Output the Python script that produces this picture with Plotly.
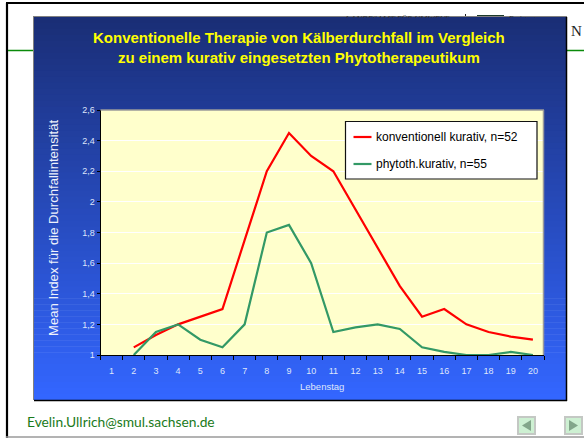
import plotly.graph_objects as go

days = list(range(1, 21))
day_labels = [str(d) for d in days]
konventionell = [None, 1.05, 1.13, 1.2, 1.25, 1.3, 1.75, 2.2, 2.45, 2.3, 2.2, 1.95, 1.7, 1.45, 1.25, 1.3, 1.2, 1.15, 1.12, 1.1]
phytoth = [None, 1.0, 1.15, 1.2, 1.1, 1.05, 1.2, 1.8, 1.85, 1.6, 1.15, 1.18, 1.2, 1.17, 1.05, 1.02, 1.0, 1.0, 1.02, 1.0]
y_ticks = [1, 1.2, 1.4, 1.6, 1.8, 2, 2.2, 2.4, 2.6]
y_labels = ["1", "1,2", "1,4", "1,6", "1,8", "2", "2,2", "2,4", "2,6"]
title_lines = ["Konventionelle Therapie von Kälberdurchfall im Vergleich", "zu einem kurativ eingesetzten Phytotherapeutikum"]
series_names = ["konventionell kurativ, n=52", "phytoth.kurativ, n=55"]

W, H = 584, 438
px = lambda v: v / W
py = lambda v: 1 - v / H
ARIAL = "Liberation Sans, Arial, sans-serif"
RED, GREEN, TICK = "#ff0000", "#339966", "#dfe6fb"


def rect(x0, y0, x1, y1, fill=None, line=None, lw=1, layer="below"):
    return dict(type="rect", xref="paper", yref="paper", x0=px(x0), x1=px(x1), y0=py(y0), y1=py(y1),
                fillcolor=fill or "rgba(0,0,0,0)", line=dict(color=line or "rgba(0,0,0,0)", width=lw if line else 0), layer=layer)


def hline(x0, x1, y, color, lw, layer="below"):
    return dict(type="line", xref="paper", yref="paper", x0=px(x0), x1=px(x1), y0=py(y), y1=py(y), line=dict(color=color, width=lw), layer=layer)


def vline(x, y0, y1, color, lw, layer="below"):
    return dict(type="line", xref="paper", yref="paper", x0=px(x), x1=px(x), y0=py(y0), y1=py(y1), line=dict(color=color, width=lw), layer=layer)


def tri(points, fill):
    path = "M " + " L ".join(f"{px(a):.5f},{py(b):.5f}" for a, b in points) + " Z"
    return dict(type="path", xref="paper", yref="paper", path=path, fillcolor=fill, line=dict(width=0), layer="below")


shapes = [
    hline(6, 584, 3, "#000000", 2.2),
    vline(7, 3, 438, "#000000", 2.2),
    hline(6, 584, 437, "#9a9a9a", 1.5),
    hline(8, 584, 50.5, "#0a8a0a", 1.5),
    vline(465.5, 14, 17, "#222222", 1),
    rect(477, 15, 504, 17, fill="#1c3a2a"),
]
y0, y1, n = 17, 400, 64
c0, c1 = (26, 46, 118), (51, 102, 255)
for i in range(n):
    t = i / (n - 1)
    col = "rgb({},{},{})".format(*[round(a + (b - a) * t) for a, b in zip(c0, c1)])
    shapes.append(rect(34, y0 + (y1 - y0) * i / n, 566, y0 + (y1 - y0) * (i + 1) / n + 0.6, fill=col))
shapes += [
    rect(100.5, 110, 544, 355, fill="#ffffcc"),
    hline(33, 567, 16.5, "#808080", 1),
    vline(33.5, 17, 400, "#808080", 1),
    hline(34, 567, 400.5, "#000000", 1.5),
    vline(566.5, 17, 401, "#000000", 1.5),
    hline(100.5, 544, 110, "#9a9a9a", 1.5, "above"),
    vline(543.5, 110, 355, "#9a9a9a", 1.5, "above"),
    rect(518, 417, 535, 434, fill="#cdf0d2", line="#c4c8c4", lw=2),
    tri([(531, 420), (531, 431), (522, 425.5)], "#83a68a"),
    rect(565, 417, 582, 434, fill="#cdf0d2", line="#c4c8c4", lw=2),
    tri([(569, 420), (569, 431), (578, 425.5)], "#83a68a"),
    rect(345.5, 121.5, 537, 179, fill="#ffffff", line="#111111", lw=1.2, layer="above"),
    hline(353.5, 371.5, 137, RED, 2.2, "above"),
    hline(353.5, 371.5, 164, GREEN, 2.2, "above"),
]

P = dict(xref="paper", yref="paper", showarrow=False)
annotations = [
    dict(text="<b>" + title_lines[0] + "</b>", x=px(298.5), y=py(37.5), xanchor="center", yanchor="middle",
         font=dict(family=ARIAL, size=15, color="#ffff00"), **P),
    dict(text="<b>" + title_lines[1] + "</b>", x=px(298.5), y=py(58), xanchor="center", yanchor="middle",
         font=dict(family=ARIAL, size=15, color="#ffff00"), **P),
    dict(text="Mean Index für die Durchfallintensität", x=px(53), y=py(228), textangle=-90,
         xanchor="center", yanchor="middle", font=dict(family=ARIAL, size=13.1, color="#eef1fc"), **P),
    dict(text="Lebenstag", x=px(322), y=py(386), xanchor="center", yanchor="middle",
         font=dict(family=ARIAL, size=9.5, color=TICK), **P),
    dict(text="Evelin.Ullrich@smul.sachsen.de", x=px(25), y=py(421), xanchor="left", yanchor="middle",
         font=dict(family="Lato, sans-serif", size=13.8, color="#1a7a1a"), **P),
    dict(text="LANDESAMT FÜR UMWELT", x=px(345), y=py(14), xanchor="left", yanchor="top",
         width=112, height=3, valign="top", align="left", borderpad=0,
         font=dict(family="Liberation Serif, serif", size=8, color="#333333"), **P),
    dict(text="Freistaat", x=px(508), y=py(14), xanchor="left", yanchor="top",
         width=40, height=3, valign="top", align="left", borderpad=0,
         font=dict(family="Liberation Serif, serif", size=8, color="#333333"), **P),
    dict(text="N", x=px(569), y=py(31), xanchor="left", yanchor="middle",
         font=dict(family="Liberation Serif, serif", size=15, color="#222222"), **P),
    dict(text=series_names[0], x=px(373.5), y=py(137), xanchor="left", yanchor="middle",
         font=dict(family=ARIAL, size=12, color="#000000"), **P),
    dict(text=series_names[1], x=px(373.5), y=py(164), xanchor="left", yanchor="middle",
         font=dict(family=ARIAL, size=12, color="#000000"), **P),
]

fig = go.Figure()
fig.add_trace(go.Scatter(x=days, y=konventionell, mode="lines", name=series_names[0],
                         line=dict(color=RED, width=2.2), cliponaxis=False))
fig.add_trace(go.Scatter(x=days, y=phytoth, mode="lines", name=series_names[1],
                         line=dict(color=GREEN, width=2.2), cliponaxis=False))

fig.update_layout(
    width=W, height=H, margin=dict(l=0, r=0, t=0, b=0, pad=0, autoexpand=False),
    paper_bgcolor="#ffffff", plot_bgcolor="#ffffcc", showlegend=False,
    shapes=shapes, annotations=annotations,
    font=dict(family=ARIAL),
    xaxis=dict(domain=[px(100.5), px(544)], range=[0.5, 20.5], tickmode="array", tickvals=days, ticktext=day_labels,
               ticks="", showgrid=False, zeroline=False, showline=True, linecolor="#000000", linewidth=1,
               tickfont=dict(family=ARIAL, size=9, color=TICK), ticklabelstandoff=7,
               minor=dict(tickmode="array", tickvals=[d + 0.5 for d in [0] + days], ticks="outside", ticklen=4, tickcolor="#000000", tickwidth=1, showgrid=False)),
    yaxis=dict(domain=[py(355), py(110)], range=[1, 2.6], tickmode="array", tickvals=y_ticks, ticktext=y_labels,
               ticks="outside", ticklen=3, tickcolor="#000000", showgrid=True, gridcolor="#ffffff", gridwidth=1,
               zeroline=False, showline=True, linecolor="#000000", linewidth=1,
               tickfont=dict(family=ARIAL, size=9, color=TICK)),
)
fig.write_html("out.html", config=dict(displayModeBar=False),
               post_script="document.body.style.margin='0';document.body.style.overflow='hidden';")
